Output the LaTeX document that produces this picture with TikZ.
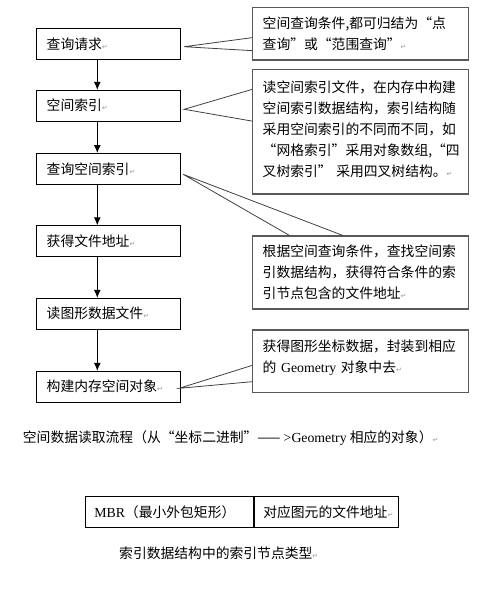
\documentclass[tikz,border=0pt]{standalone}
\usepackage{fontspec}
\setmainfont{Liberation Serif}
\newfontfamily\cjk{Noto Sans CJK SC}
\newfontfamily\markfont{DejaVu Sans}
\usetikzlibrary{arrows.meta}
\newcommand\retmark{{\markfont\fontsize{7}{7}\selectfont\textcolor{black!40}{↵}}}
\newcommand\lift[1]{\rule[-#1]{0pt}{#1}}
\begin{document}
\begin{tikzpicture}[x=1pt,y=-1pt,>={Latex[length=8pt,width=7pt]},
    every node/.style={font={\cjk\fontsize{13.8}{21}\selectfont}},
    stepbox/.style={draw,line width=1pt,minimum height=30.7pt,text width=123.6pt,align=left,inner xsep=10pt,text height=11pt,text depth=0.6pt},
    notebox/.style={draw=black!65,line width=1.2pt,text width=196pt,align=left,inner xsep=10pt},
    pointer/.style={draw=black!75,line width=0.8pt},
    cell/.style={draw,line width=1pt,minimum height=30.6pt,align=left,inner xsep=9pt,text height=11pt,text depth=0.6pt}]
    \useasboundingbox (0,0) rectangle (496,592);
    \def\ax{11.2pt}
    \node[stepbox] (req) at (108.5,44) {查询请求\retmark};
    \node[stepbox] (sidx) at (108.5,105.7) {空间索引\retmark};
    \node[stepbox] (qidx) at (108.5,168.9) {查询空间索引\retmark};
    \node[stepbox] (faddr) at (108.5,241.2) {获得文件地址\retmark};
    \node[stepbox] (readg) at (108.5,313.7) {读图形数据文件\retmark};
    \node[stepbox] (build) at (108.5,386.7) {构建内存空间对象\retmark};
    \foreach \a/\b in {req/sidx,sidx/qidx,qidx/faddr,faddr/readg,readg/build}
    {
    \draw[->,line width=1pt] ([xshift=-\ax]\a.south) -- ([xshift=-\ax]\b.north);
    }
    \node[notebox,minimum height=52.7pt] (condn) at (360.7,33.65) {空间查询条件,都可归结为“点\\查询”或“范围查询”\retmark};
    \node[notebox,minimum height=124.7pt] (idxn) at (360.7,131.65) {读空间索引文件，在内存中构建\\空间索引数据结构，索引结构随\\采用空间索引的不同而不同，如\\“网格索引”采用对象数组,“四\\叉树索引” 采用四叉树结构。\retmark\lift{6pt}};
    \node[notebox,minimum height=73pt] (findn) at (360.7,272.5) {根据空间查询条件，查找空间索\\引数据结构，获得符合条件的索\\引节点包含的文件地址\retmark};
    \node[notebox,minimum height=62.3pt] (geomn) at (360.7,361.15) {获得图形坐标数据，封装到相应\\的 {\rmfamily Geometry} 对象中去\retmark\lift{10pt}};
    \draw[pointer] ([yshift=-4pt]condn.west) -- ([xshift=3.4pt,yshift=-2.7pt]req.east) -- ([yshift=-17pt]condn.west);
    \draw[pointer] ([yshift=-20.7pt]idxn.north west) -- ([xshift=3.4pt,yshift=-3.6pt]sidx.east) -- ([yshift=-52.4pt]idxn.north west);
    \draw[pointer] ([xshift=37.3pt]findn.north west) -- ([xshift=2.4pt,yshift=-5.4pt]qidx.east) -- ([xshift=90.6pt]findn.north west);
    \draw[pointer] ([yshift=-36pt]geomn.north west) -- ([xshift=-1.6pt,yshift=-1.6pt]build.east) -- ([yshift=-52.3pt]geomn.north west);
    \node[anchor=west,inner sep=0pt] (flowcap) at (22.7,437.7) {空间数据读取流程（从“坐标二进制”—— {\rmfamily >Geometry} 相应的对象）\retmark};
    \node[cell,text width=150pt] (mbr) at (169.3,512) {{\rmfamily MBR}（最小外包矩形）};
    \node[cell,text width=126pt,anchor=west] (maddr) at (mbr.east) {对应图元的文件地址\retmark};
    \node[anchor=west,inner sep=0pt] (tabcap) at (119,553.3) {索引数据结构中的索引节点类型\retmark};
\end{tikzpicture}
\end{document}
